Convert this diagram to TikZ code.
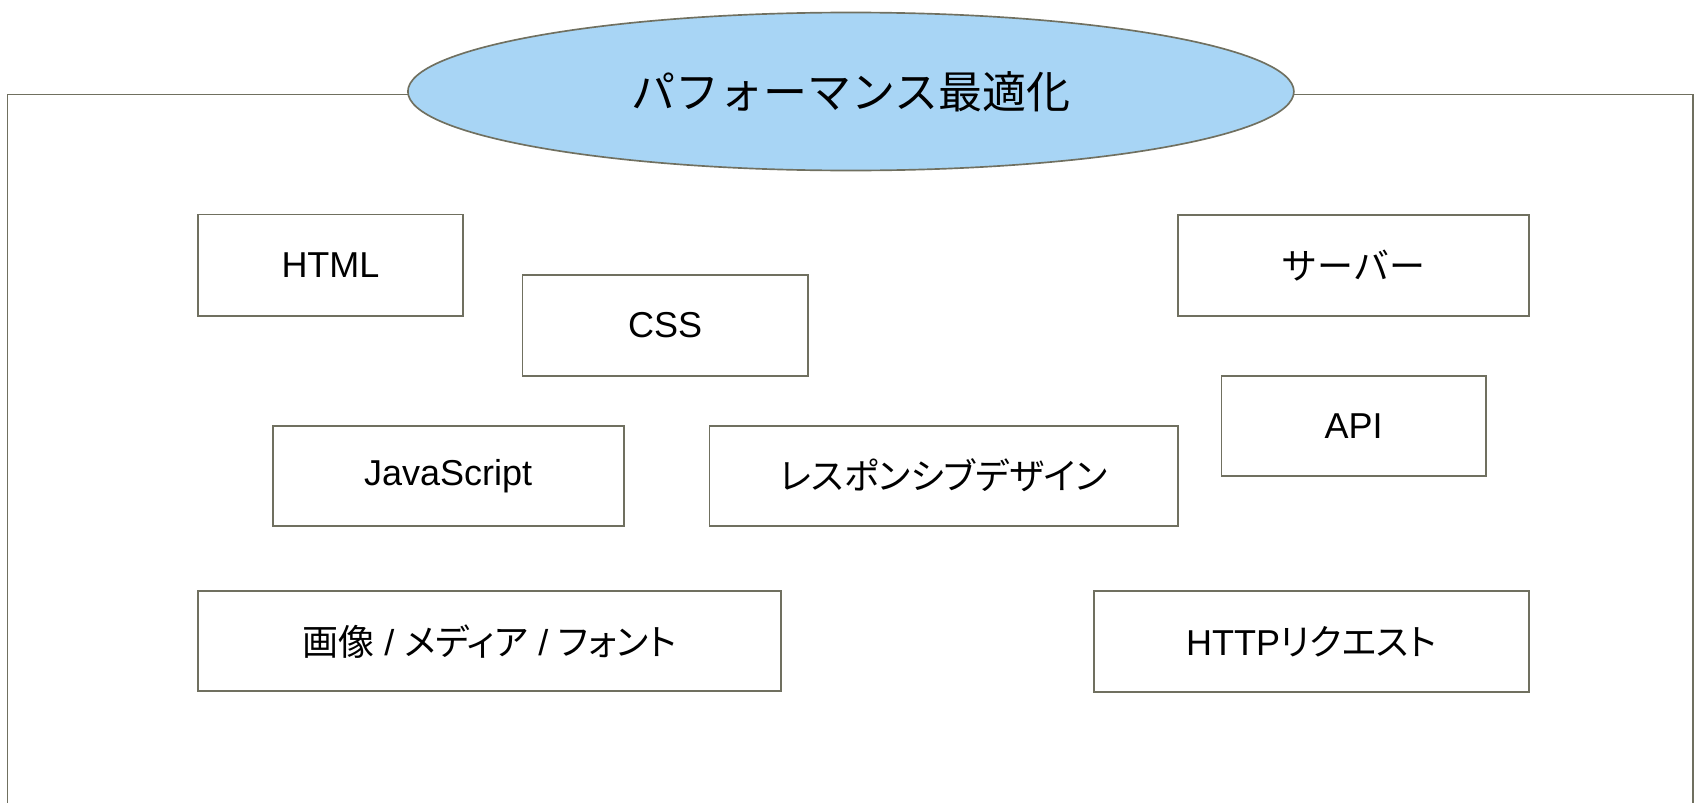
\documentclass[tikz,border=0pt]{standalone}
\usepackage{fontspec}
\setmainfont{Liberation Sans}
\newfontfamily\jp{Noto Sans CJK JP}
\newfontfamily\jpp[RawFeature=+palt]{Noto Sans CJK JP}
\usetikzlibrary{shapes.geometric}
\definecolor{edge}{RGB}{112,112,96}
\definecolor{skyfill}{RGB}{168,213,245}
\tikzset{
  topic/.style={draw=edge, line width=1.25pt, fill=white, rectangle, inner sep=0pt,
    font=\fontsize{27}{32}\selectfont},
  headline/.style={draw=edge, line width=1.25pt, fill=skyfill, ellipse, inner sep=0pt,
    font=\fontsize{33}{38}\selectfont\jp},
}
\begin{document}
\begin{tikzpicture}[x=0.75pt, y=-0.75pt]
\useasboundingbox (0,0) rectangle (1696,803);
% open frame around the topics
\coordinate (fl) at (7.6,803);
\coordinate (fr) at (1693,803);
\draw[edge, line width=1.25pt] (fl) -- (7.6,94.5) -- (1693,94.5) -- (fr);
% title
\node[headline, minimum width=664.5pt, minimum height=118.5pt] (title) at (850.9,91.5) {パフォーマンス最適化};
% topics
\node[topic, minimum width=198.8pt, minimum height=76pt] (html) at (330.5,265.2) {HTML};
\node[topic, minimum width=214pt, minimum height=75.3pt] (css) at (665.1,325.5) {CSS};
\node[topic, minimum width=263.3pt, minimum height=75pt] (js) at (448.2,475.7) {JavaScript};
\node[topic, minimum width=351.6pt, minimum height=75pt] (resp) at (943.8,475.7) {\jpp レスポンシブデザイン};
\node[topic, minimum width=263.4pt, minimum height=75.5pt] (server) at (1353.4,265.4) {\jp サーバー};
\node[topic, minimum width=198.4pt, minimum height=75.4pt] (api) at (1353.65,426) {API};
\node[topic, minimum width=437.1pt, minimum height=75pt] (media) at (489.4,641.3) {{\jpp 画像} / {\jpp メディア} / {\jpp フォント}};
\node[topic, minimum width=326.5pt, minimum height=75.7pt] (http) at (1311.4,641.5) {HTTP{\jpp リクエスト}};
\end{tikzpicture}
\end{document}
